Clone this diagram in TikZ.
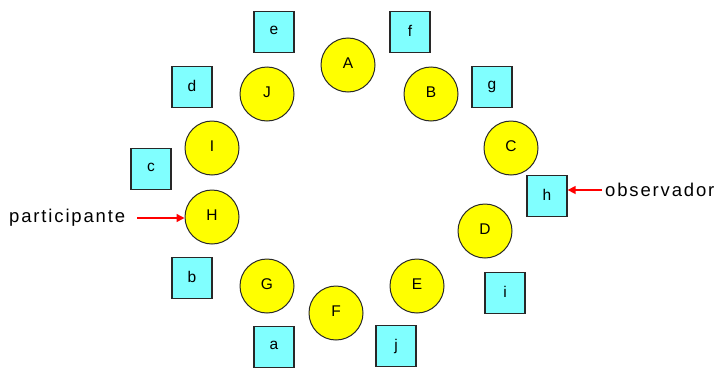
\documentclass[tikz,border=0pt]{standalone}
\usepackage{fontspec}
\setmainfont{Liberation Sans}
\usetikzlibrary{arrows.meta}
\definecolor{seat}{RGB}{255,255,0}
\definecolor{obs}{RGB}{128,255,255}
\definecolor{edge}{RGB}{40,40,40}
\tikzset{
  pers/.style={circle, draw=edge, line width=1pt, fill=seat, minimum size=54pt, inner sep=0pt,
    font=\fontsize{15.5}{15.5}\selectfont},
  obsbox/.style={rectangle, draw=edge, line width=1.3pt, fill=obs, minimum width=40pt, minimum height=41pt, inner sep=0pt,
    font=\fontsize{15.5}{15.5}\selectfont},
  tag/.style={inner sep=0pt, font=\fontsize{18.5}{18.5}\selectfont\addfontfeature{LetterSpace=10}},
  pointer/.style={red, line width=1.5pt, -{Triangle[length=8pt,width=8pt]}}
}
\newcommand{\up}[1]{\raisebox{3pt}{#1}}
\begin{document}
\begin{tikzpicture}[x=1pt,y=-1pt]
\useasboundingbox (0,0) rectangle (719,367);
% circles (participants)
\node[pers] (A) at (348,65) {\up{A}};
\node[pers] (B) at (431,94) {\up{B}};
\node[pers] (C) at (511,148) {\up{C}};
\node[pers] (D) at (485,231) {\up{D}};
\node[pers] (E) at (417,286) {\up{E}};
\node[pers] (F) at (336,313) {\up{F}};
\node[pers] (G) at (267,286) {\up{G}};
\node[pers] (H) at (212,217) {\up{H}};
\node[pers] (I) at (212,148) {\up{I}};
\node[pers] (J) at (267,94) {\up{J}};
% squares (observers)
\node[obsbox] (a) at (274,347) {\up{a}};
\node[obsbox] (b) at (192,278) {\up{b}};
\node[obsbox] (c) at (151,169) {\up{c}};
\node[obsbox] (d) at (192,87) {\up{d}};
\node[obsbox] (e) at (274,32) {\up{e}};
\node[obsbox] (f) at (410,32) {\up{f}};
\node[obsbox] (g) at (492,87) {\up{g}};
\node[obsbox] (h) at (547,196) {\up{h}};
\node[obsbox] (i) at (505,293) {\up{i}};
\node[obsbox] (j) at (396,346) {\up{j}};
% labels
\node[tag, anchor=west] (pl) at (9,218) {participante};
\node[tag, anchor=west] (ol) at (605,190) {observador};
\draw[pointer, shorten <=12pt] (pl.east) -- (pl.east -| H.west);
\draw[pointer, shorten <=3pt] (ol.west) -- (ol.west -| h.east);
\end{tikzpicture}
\end{document}
